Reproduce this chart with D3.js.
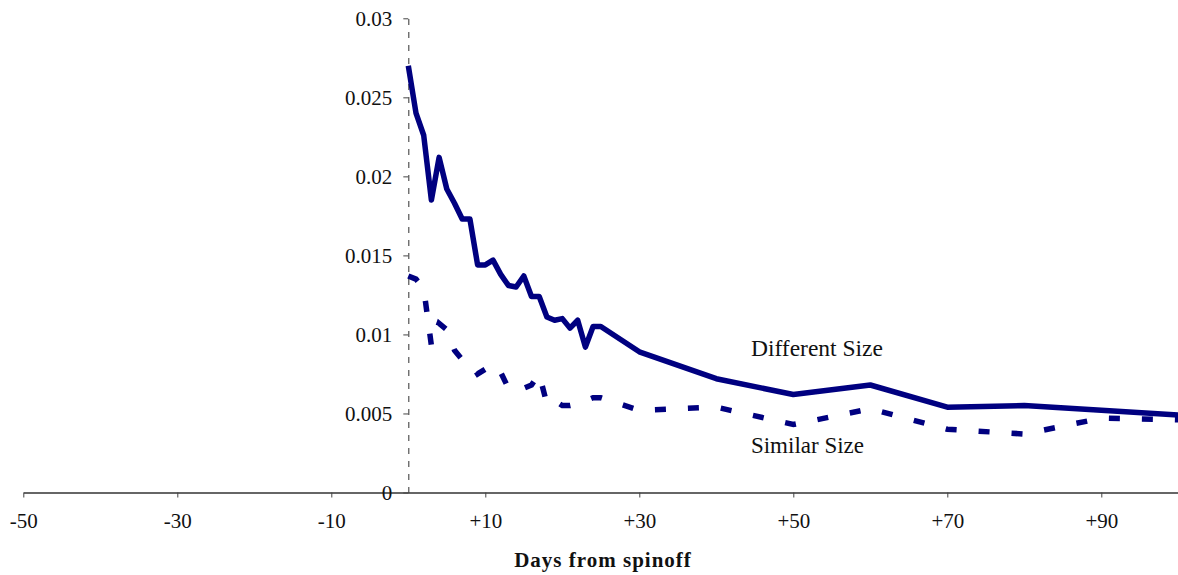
<!DOCTYPE html>
<html>
<head>
<meta charset="utf-8">
<script src="https://cdn.jsdelivr.net/npm/d3@7"></script>
<style>
  body { margin: 0; background: #fff; }
  text { font-family: "Liberation Serif", "Times New Roman", serif; }
</style>
</head>
<body>
<script>
// days from spinoff, daily up to +25 then every 10 days
let days = [0, 1, 2, 3, 4, 5, 6, 7, 8, 9, 10, 11, 12, 13, 14, 15, 16, 17, 18, 19, 20, 21, 22, 23, 24, 25, 30, 40, 50, 60, 70, 80, 90, 100]

let differentSize = [0.0270, 0.0240, 0.0226, 0.0185, 0.0212, 0.0192, 0.0183, 0.0173, 0.0173, 0.0144,
    0.0144, 0.0147, 0.0138, 0.0131, 0.0130, 0.0137, 0.0124, 0.0124, 0.0111, 0.0109,
    0.0110, 0.0104, 0.0109, 0.0092, 0.0105, 0.0105, 0.0089, 0.0072, 0.0062, 0.0068,
    0.0054, 0.0055, 0.0052, 0.0049]

let similarSize = [0.0137, 0.0135, 0.0129, 0.0093, 0.0107, 0.0103, 0.0090, 0.0084, 0.0082, 0.0075,
    0.0078, 0.0081, 0.0076, 0.0066, 0.0065, 0.0066, 0.0068, 0.0075, 0.0056, 0.0058,
    0.0055, 0.0055, 0.0056, 0.0058, 0.0060, 0.0060, 0.0052, 0.0054, 0.0043, 0.0053,
    0.0040, 0.0037, 0.0047, 0.0046]

let xTicks = [-50, -30, -10, 10, 30, 50, 70, 90]
let yTicks = [0, 0.005, 0.01, 0.015, 0.02, 0.025, 0.03]

let width = 1178
let height = 575

let svg = d3.select('body')
    .append('svg')
    .attr('width', width)
    .attr('height', height)

let xScale = d3.scaleLinear()
    .domain([-50, 100])
    .range([23.3, 1178.3])

let yScale = d3.scaleLinear()
    .domain([0, 0.03])
    .range([492.5, 18.3])

// x axis at y = 0
let xAxis = d3.axisBottom(xScale)
    .tickValues(xTicks)
    .tickFormat(d => (d > 0 ? '+' : '') + d)
    .tickSize(5)
    .tickSizeOuter(0)
    .tickPadding(16)

let gx = svg.append('g')
    .attr('id', 'x-axis')
    .attr('transform', 'translate(0, ' + yScale(0) + ')')
    .call(xAxis)

gx.select('.domain').attr('stroke', '#333').attr('stroke-width', 1.3)
gx.selectAll('.tick line').attr('stroke', '#444')
gx.selectAll('.tick text')
    .attr('fill', '#111')
    .style('font-size', '21px')
    .style('font-family', '"Liberation Serif", serif')

// y axis at day 0, dashed
let yAxis = d3.axisLeft(yScale)
    .tickValues(yTicks)
    .tickFormat(d => String(d))
    .tickSize(5)
    .tickSizeOuter(0)
    .tickPadding(11)

let gy = svg.append('g')
    .attr('id', 'y-axis')
    .attr('transform', 'translate(' + xScale(0) + ', 0)')
    .call(yAxis)

gy.select('.domain')
    .attr('stroke', '#444')
    .attr('stroke-width', 1.1)
    .attr('stroke-dasharray', '6,7')
gy.selectAll('.tick line').attr('stroke', '#444')
gy.selectAll('.tick text')
    .attr('fill', '#111')
    .style('font-size', '21px')
    .style('font-family', '"Liberation Serif", serif')

// lines
let line = d3.line()
    .x((d, i) => xScale(days[i]))
    .y(d => yScale(d))

svg.append('path')
    .datum(differentSize)
    .attr('fill', 'none')
    .attr('stroke', '#000080')
    .attr('stroke-width', 5.5)
    .attr('stroke-linejoin', 'round')
    .attr('d', line)

svg.append('path')
    .datum(similarSize)
    .attr('fill', 'none')
    .attr('stroke', '#000080')
    .attr('stroke-width', 5.5)
    .attr('stroke-dasharray', '11,22')
    .attr('d', line)

// series labels
svg.append('text')
    .attr('x', xScale(44.5))
    .attr('y', yScale(0.00864))
    .style('font-size', '23.5px')
    .attr('fill', '#111')
    .text('Different Size')

svg.append('text')
    .attr('x', xScale(44.5))
    .attr('y', yScale(0.0025))
    .style('font-size', '23px')
    .attr('fill', '#111')
    .text('Similar Size')

// axis title
svg.append('text')
    .attr('x', 603)
    .attr('y', 566.7)
    .attr('text-anchor', 'middle')
    .style('font-size', '21px')
    .style('font-weight', 'bold')
    .style('letter-spacing', '1px')
    .attr('fill', '#111')
    .text('Days from spinoff')
</script>
</body>
</html>
